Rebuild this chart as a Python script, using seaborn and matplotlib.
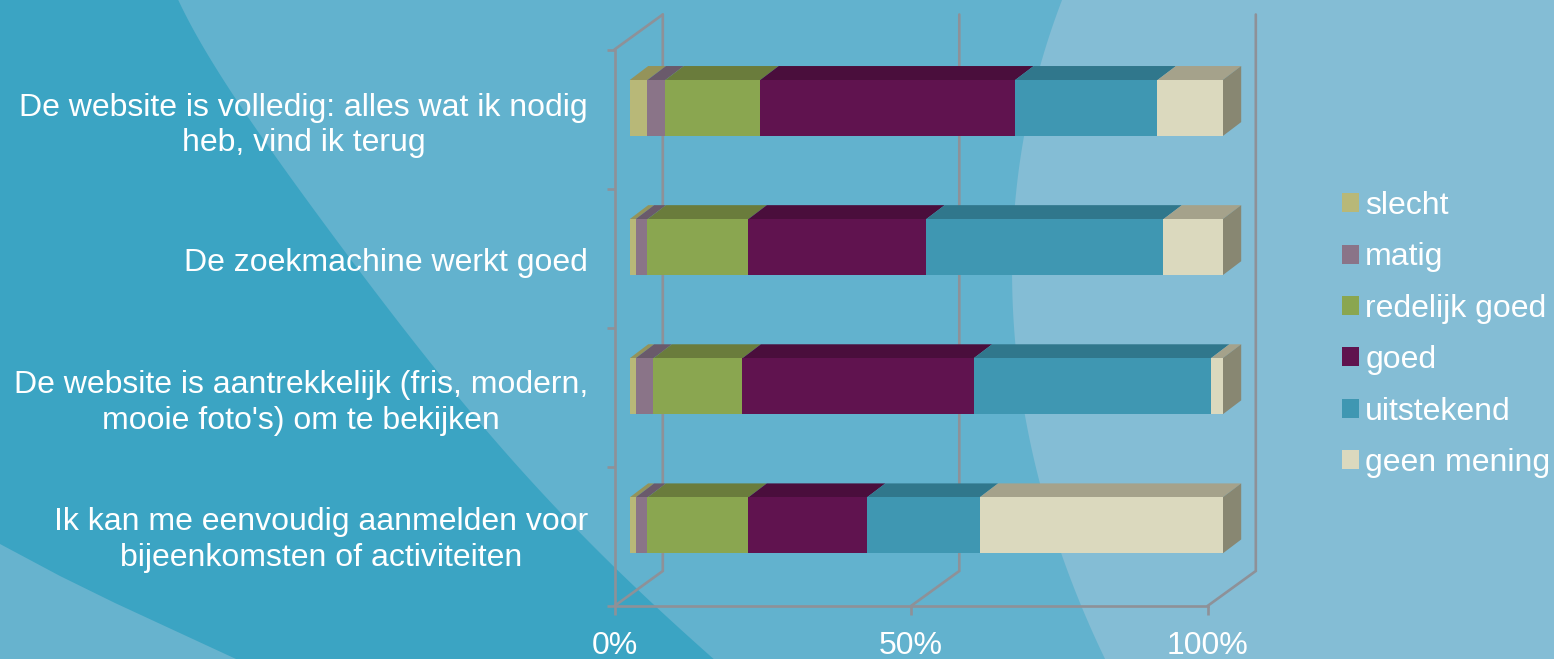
import matplotlib
matplotlib.use("Agg")
import matplotlib.pyplot as plt
import seaborn as sns
import numpy as np
from matplotlib.patches import Polygon
from matplotlib.transforms import Affine2D

# ---- data ----
categories = ["De website is volledig: alles wat ik nodig\nheb, vind ik terug",
              "De zoekmachine werkt goed",
              "De website is aantrekkelijk (fris, modern,\nmooie foto's) om te bekijken",
              "Ik kan me eenvoudig aanmelden voor\nbijeenkomsten of activiteiten"]
slecht = [3, 1, 1, 1]
matig = [3, 2, 3, 2]
redelijk_goed = [16, 17, 15, 17]
goed = [43, 30, 39, 20]
uitstekend = [24, 40, 40, 19]
geen_mening = [11, 10, 2, 41]
series_names = ["slecht", "matig", "redelijk goed", "goed", "uitstekend", "geen mening"]
series_values = [slecht, matig, redelijk_goed, goed, uitstekend, geen_mening]
x_ticks = [0, 50, 100]
x_tick_labels = ["0%", "50%", "100%"]

# ---- styles ----
front_colors = ["#B8B878", "#8A7488", "#8AA650", "#60134F", "#3F97B2", "#DBD9BE"]
top_colors = ["#94935A", "#6A5A6B", "#6A7C3C", "#4A0E3C", "#30778C", "#A5A28B"]
side_color = "#888772"
grid_color = "#8E9198"
BG_MAIN, BG_DARK, BG_LIGHT, BG_WEDGE = "#62B2CE", "#3BA4C3", "#84BDD5", "#67B3CE"
FONT = 23

sns.set_style("white")
plt.rcParams["font.family"] = ["Liberation Sans", "DejaVu Sans"]

W, H = 1554, 659
fig = plt.figure(figsize=(W / 100, H / 100), dpi=100, facecolor=BG_MAIN)

# decorative background, in pixel coordinates: smooth edges through traced points
def smooth_edge(points, degree):
    xs, ys = np.array(points, dtype=float).T
    yy = np.linspace(0, H, 200)
    return list(zip(np.polyval(np.polyfit(ys, xs, degree), yy), yy))

bg = fig.add_axes([0, 0, 1, 1], zorder=0)
bg.set_xlim(0, W); bg.set_ylim(H, 0); bg.axis("off")
dark_edge = smooth_edge([(178, 0), (233, 93), (282, 167), (337, 243), (383, 300), (427, 357), (459, 398),
                         (500, 447), (545, 497), (584, 537), (617, 570), (660, 609), (713, 659)], 5)
bg.add_patch(Polygon([(0, 0)] + dark_edge + [(0, H)], facecolor=BG_DARK, edgecolor="none"))
bg.add_patch(Polygon([(0, 544), (60, 576), (115, 603), (236, 659), (0, 659)],
                     facecolor=BG_WEDGE, edgecolor="none"))
light_edge = smooth_edge([(1062, 0), (1045, 50), (1030, 105), (1019, 170), (1013, 235), (1012, 290),
                          (1017, 360), (1030, 440), (1050, 520), (1075, 590), (1105, 659)], 5)
bg.add_patch(Polygon(light_edge + [(W, H), (W, 0)], facecolor=BG_LIGHT, edgecolor="none"))

# main axes: the floor plane of the 3D chart
left, right, top, bottom = 614.5, 1207.5, 49.5, 606
ax = fig.add_axes([left / W, 1 - bottom / H, (right - left) / W, (bottom - top) / H], zorder=1)
ax.patch.set_visible(False)

cum = np.zeros(len(categories))
for name, vals, col in zip(series_names, series_values, front_colors):
    sns.barplot(x=vals, y=categories, orient="h", left=cum.copy(), color=col, width=0.403,
                saturation=1, label=name, ax=ax, legend=False, linewidth=0, zorder=3)
    cum += np.array(vals)

ax.set_xlim(0, 100)
ax.set_ylim(3.5, -0.5)

sx = (right - left) / 100
sy = (bottom - top) / 4
shift = Affine2D().translate(15.2 / sx, -11 / sy)
bdx, bdy = 18.5 / sx, 14 / sy      # depth of a bar
wdx, wdy = 48.3 / sx, 35 / sy      # depth of the chart walls

# 3D faces of the bars, derived from the bars themselves
for i, cont in enumerate(ax.containers):
    for p in cont.patches:
        x0, w, y0, h = p.get_x(), p.get_width(), p.get_y(), p.get_height()
        p.set_transform(shift + ax.transData)
        p.set_clip_on(False)
        ax.add_patch(Polygon([(x0, y0), (x0 + w, y0), (x0 + w + bdx, y0 - bdy), (x0 + bdx, y0 - bdy)],
                             facecolor=top_colors[i], edgecolor="none", zorder=2.5,
                             transform=shift + ax.transData, clip_on=False))
        if i == len(ax.containers) - 1:
            ax.add_patch(Polygon([(x0 + w, y0), (x0 + w + bdx, y0 - bdy),
                                  (x0 + w + bdx, y0 + h - bdy), (x0 + w, y0 + h)],
                                 facecolor=side_color, edgecolor="none", zorder=2.5,
                                 transform=shift + ax.transData, clip_on=False))

# walls
for v in x_ticks:
    ax.plot([v, v + wdx, v + wdx], [3.5, 3.5 - wdy, -0.5 - wdy], color=grid_color, lw=1.9,
            clip_on=False, zorder=1, solid_joinstyle="miter")
ax.plot([0, wdx], [-0.5, -0.5 - wdy], color=grid_color, lw=1.9, clip_on=False, zorder=1)

# axes
for s in ("top", "right"):
    ax.spines[s].set_visible(False)
for s in ("left", "bottom"):
    ax.spines[s].set_color(grid_color)
    ax.spines[s].set_linewidth(1.9)
ax.set_xticks(x_ticks, x_tick_labels)
ax.set_yticks(np.arange(-0.5, 4, 1), minor=True)
ax.tick_params(axis="x", which="major", length=6.5, width=1.9, color=grid_color,
               labelcolor="white", labelsize=FONT, pad=11.3, bottom=True)
ax.tick_params(axis="y", which="major", length=0, labelcolor="white", labelsize=FONT, pad=19)
ax.tick_params(axis="y", which="minor", length=5.8, width=1.9, color=grid_color, left=True)
for lab, nudge in zip(ax.get_yticklabels(), [0, -1, 1, 3]):
    lab.set_multialignment("center")
    lab.set_linespacing(1.25)
    lab.set_transform(lab.get_transform() + Affine2D().translate(0, nudge))
ax.set_xlabel(""); ax.set_ylabel("")

handles = [c.patches[0] for c in ax.containers]
leg = fig.legend(handles, series_names, loc="upper left", bbox_to_anchor=(1342 / W, 1 - 191 / H),
                 bbox_transform=fig.transFigure, frameon=False, fontsize=FONT, labelcolor="white",
                 handlelength=0.54, handleheight=0.54, handletextpad=0.19, labelspacing=0.67,
                 borderpad=0, borderaxespad=0)

fig.savefig("out.png", dpi=100, facecolor=BG_MAIN)
